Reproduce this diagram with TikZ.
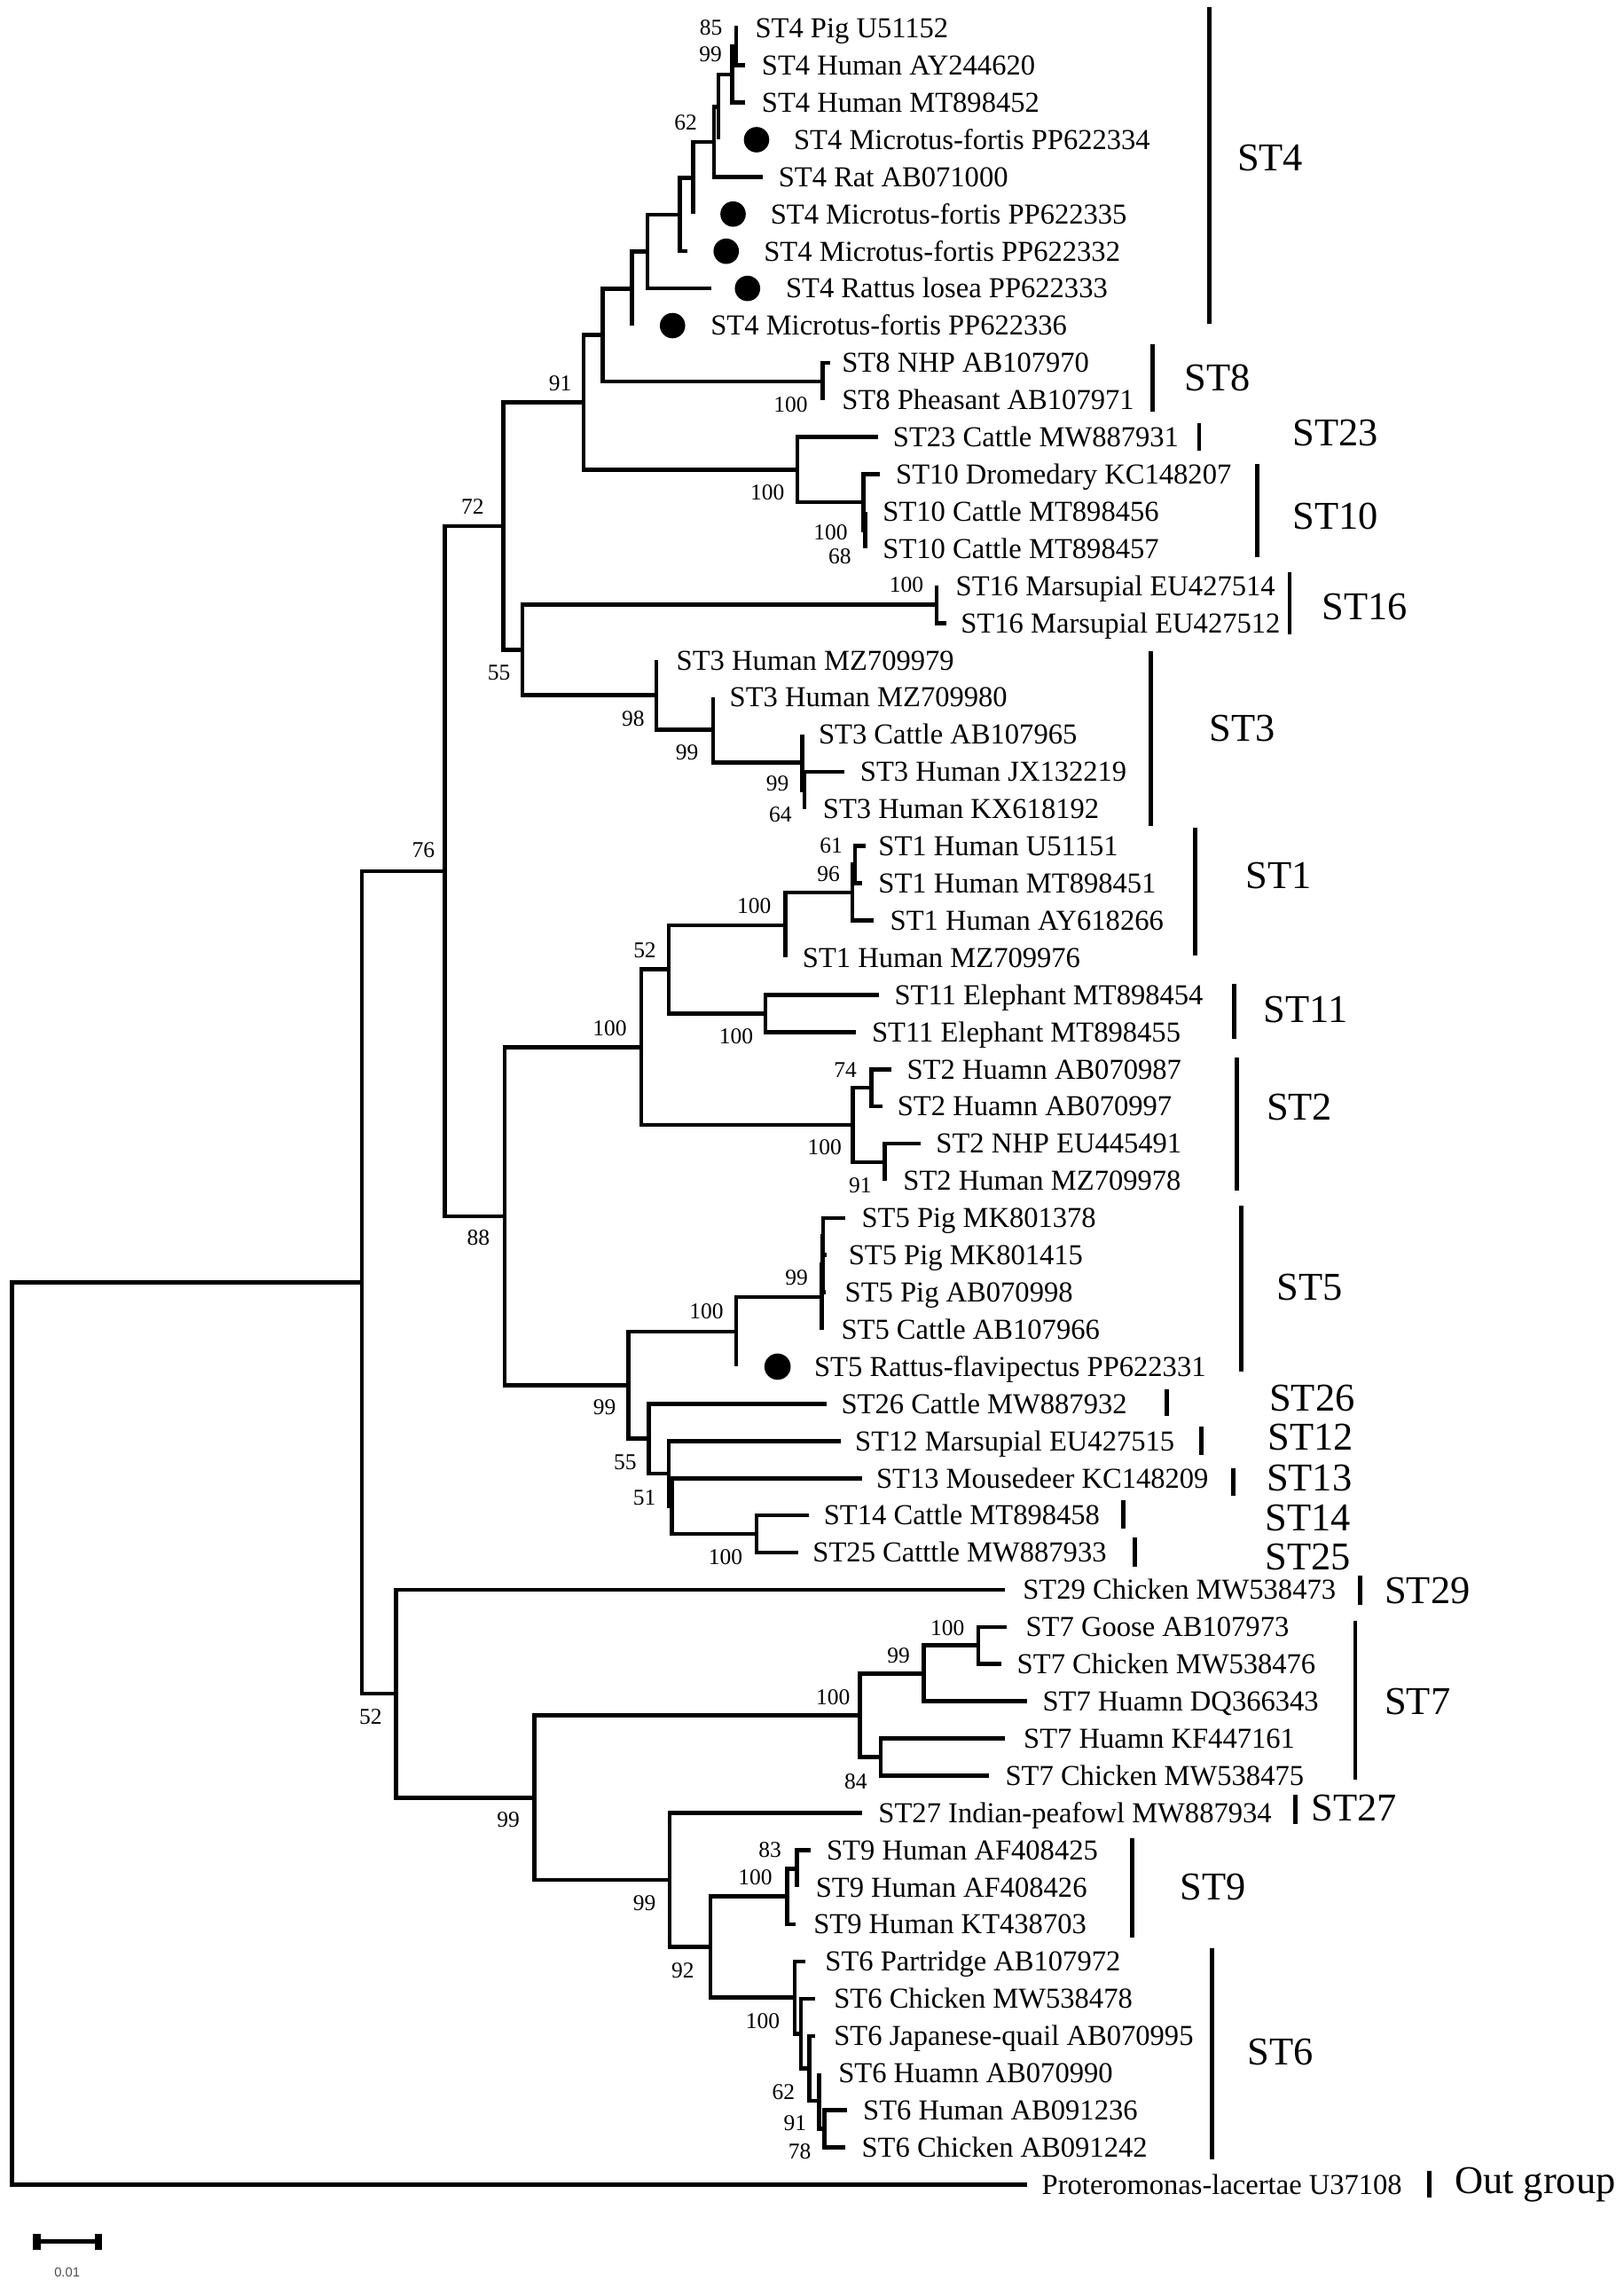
\documentclass[tikz,border=0pt]{standalone}
\usepackage{fontspec}
\setmainfont{Liberation Serif}
\newfontfamily\barfont{Liberation Sans}
\begin{document}
\begin{tikzpicture}[x=1pt,y=-1pt,
  declare function={Ly(\n)=25.48*\n-6.18;},
  br/.style={line width=2.8pt, line join=miter},
  leaf/.style={anchor=base west, inner sep=0pt, font=\fontsize{19.8}{22}\selectfont, yshift=-6.6pt},
  bs/.style={anchor=center, inner sep=0pt, font=\fontsize{15.5}{17}\selectfont},
  clade/.style={anchor=west, inner sep=0pt, font=\fontsize{27}{29}\selectfont},
  cbar/.style={line width=3pt},
  dot/.style={circle, fill=black, inner sep=0pt, minimum size=17.4pt}]
\useasboundingbox (0,0) rectangle (1113,1568);

% leaves: index / tip x / label x / text
\foreach \i/\x/\lx/\t in {
 1/506/517.5/ST4 Pig U51152,
 2/510.6/522/ST4 Human AY244620,
 3/510.6/522/ST4 Human MT898452,
 4/492.5/544/ST4 Microtus-fortis PP622334,
 5/522.8/533.5/ST4 Rat AB071000,
 6/475.2/528/ST4 Microtus-fortis PP622335,
 7/471/523.5/ST4 Microtus-fortis PP622332,
 8/487.3/538.5/ST4 Rattus losea PP622333,
 9/433.2/487/ST4 Microtus-fortis PP622336,
 10/569/577/ST8 NHP AB107970,
 11/564/577/ST8 Pheasant AB107971,
 12/601.8/612/ST23 Cattle MW887931,
 13/603/614/ST10 Dromedary KC148207,
 14/593.1/605/ST10 Cattle MT898456,
 15/593.1/605/ST10 Cattle MT898457,
 16/642/655/ST16 Marsupial EU427514,
 17/648.5/658.5/ST16 Marsupial EU427512,
 18/450/463.5/ST3 Human MZ709979,
 19/488.8/500/ST3 Human MZ709980,
 20/550/561/ST3 Cattle AB107965,
 21/579/589.5/ST3 Human JX132219,
 22/551.4/564/ST3 Human KX618192,
 23/593.5/602/ST1 Human U51151,
 24/591/602/ST1 Human MT898451,
 25/598.8/610/ST1 Human AY618266,
 26/538.2/550/ST1 Human MZ709976,
 27/602.8/613/ST11 Elephant MT898454,
 28/586.6/597.5/ST11 Elephant MT898455,
 29/611/621.5/ST2 Huamn AB070987,
 30/604.9/615/ST2 Huamn AB070997,
 31/631.2/641.5/ST2 NHP EU445491,
 32/606.5/619/ST2 Human MZ709978,
 33/579.5/590.5/ST5 Pig MK801378,
 34/566.8/581.5/ST5 Pig MK801415,
 35/566/579/ST5 Pig AB070998,
 36/563.3/576.5/ST5 Cattle AB107966,
 37/504.6/558/ST5 Rattus-flavipectus PP622331,
 38/566.4/576.5/ST26 Cattle MW887932,
 39/576.5/586/ST12 Marsupial EU427515,
 40/590.7/600.5/ST13 Mousedeer KC148209,
 41/554.2/564.5/ST14 Cattle MT898458,
 42/547/557/ST25 Catttle MW887933,
 43/689/701/ST29 Chicken MW538473,
 44/690/703/ST7 Goose AB107973,
 45/686.5/697/ST7 Chicken MW538476,
 46/704.1/714.5/ST7 Huamn DQ366343,
 47/689/701.5/ST7 Huamn KF447161,
 48/677.8/689/ST7 Chicken MW538475,
 49/590.7/602/ST27 Indian-peafowl MW887934,
 50/555.7/566.5/ST9 Human AF408425,
 51/546.1/559/ST9 Human AF408426,
 52/545.4/557.5/ST9 Human KT438703,
 53/552.2/565.5/ST6 Partridge AB107972,
 54/558.9/571.5/ST6 Chicken MW538478,
 55/558.9/571.5/ST6 Japanese-quail AB070995,
 56/561.3/574.5/ST6 Huamn AB070990,
 57/580.5/591.5/ST6 Human AB091236,
 58/579.1/590.5/ST6 Chicken AB091242,
 59/704/714/Proteromonas-lacertae U37108}
{
  \coordinate (t\i) at (\x,{Ly(\i)});
  \node[leaf] (lab\i) at (\lx,{Ly(\i)}) {\t};
}

% internal nodes: name / x / leaf-row position
\foreach \n/\x/\l in {
 n85/504.6/1.5, n99t/502/2.25, nB/492.5/3.125, nA/489.5/4.0625,
 nC/475.2/5.031, nD/466/6.016, nE/443.8/7.008, nF/433.2/8.004,
 n8/564/10.5, nG/413/9.252, nXten/593.1/14.5, nten/592/13.75,
 ntwentythree/546.5/12.875, nH/400/11.064, nsixteen/642/16.5,
 nYthree/551.4/21.5, nthreeb/550/20.75, nthreea/488.8/19.875,
 nninetyeight/450/18.94, nfiftyfive/358/17.72, nseventytwo/345/14.39,
 nZone/586/23.5, nninetysix/584.2/24.25, none/538.2/25.125,
 neleven/524.8/27.5, nfiftytwo/458.5/26.31, nseventyfour/597.4/29.5,
 nninetyone/606.5/31.5, ntwo/584.6/30.5, nbig/439.5/28.41,
 sone/564.3/33.5, stwo/563.8/34.25, sthree/563.3/35.125, nfive/504.6/36.06,
 nfourteen/518.7/41.5, nV/460.5/40.75, nfiftyone/458.5/39.875,
 nfiftyfiveb/444.8/38.94, nninetyninec/430.6/37.5, neightyeight/346/32.955,
 nseventysix/305/23.67,
 ngoose/670.7/44.5, nninetynined/633.2/45.25, neightyfour/603.8/47.5,
 nseven/589.3/46.375, neightythree/546.1/50.5, nnine/539.6/51.25,
 nseventyeight/565.3/57.5, nninetyoneb/561.3/56.75, nsixtytwob/554.8/55.875,
 nXsix/549.1/54.94, nsix/544.7/53.97, nninetytwo/487/52.61,
 nninetyninee/459/50.8, nninetyninef/366.4/48.59, nfiftytwob/271.5/45.795,
 ntop/248/34.73, root/8.1/46.865}
{
  \coordinate (\n) at (\x,{Ly(\l)});
}

% branches: parent / child
\foreach \p/\c in {
 n85/t1, n85/t2, n99t/n85, n99t/t3, nB/n99t, nB/t4, nA/nB, nA/t5,
 nC/nA, nC/t6, nD/nC, nD/t7, nE/nD, nE/t8, nF/nE, nF/t9,
 n8/t10, n8/t11, nG/nF, nG/n8,
 nXten/t14, nXten/t15, nten/t13, nten/nXten, ntwentythree/t12, ntwentythree/nten,
 nH/nG, nH/ntwentythree,
 nsixteen/t16, nsixteen/t17,
 nYthree/t21, nYthree/t22, nthreeb/t20, nthreeb/nYthree, nthreea/t19, nthreea/nthreeb,
 nninetyeight/t18, nninetyeight/nthreea,
 nfiftyfive/nsixteen, nfiftyfive/nninetyeight,
 nseventytwo/nH, nseventytwo/nfiftyfive,
 nZone/t23, nZone/t24, nninetysix/nZone, nninetysix/t25, none/nninetysix, none/t26,
 neleven/t27, neleven/t28, nfiftytwo/none, nfiftytwo/neleven,
 nseventyfour/t29, nseventyfour/t30, nninetyone/t31, nninetyone/t32,
 ntwo/nseventyfour, ntwo/nninetyone, nbig/nfiftytwo, nbig/ntwo,
 sone/t33, sone/t34, stwo/sone, stwo/t35, sthree/stwo, sthree/t36,
 nfive/sthree, nfive/t37,
 nfourteen/t41, nfourteen/t42, nV/t40, nV/nfourteen, nfiftyone/t39, nfiftyone/nV,
 nfiftyfiveb/t38, nfiftyfiveb/nfiftyone,
 nninetyninec/nfive, nninetyninec/nfiftyfiveb,
 neightyeight/nbig, neightyeight/nninetyninec,
 nseventysix/nseventytwo, nseventysix/neightyeight,
 ngoose/t44, ngoose/t45, nninetynined/ngoose, nninetynined/t46,
 neightyfour/t47, neightyfour/t48, nseven/nninetynined, nseven/neightyfour,
 neightythree/t50, neightythree/t51, nnine/neightythree, nnine/t52,
 nseventyeight/t57, nseventyeight/t58, nninetyoneb/t56, nninetyoneb/nseventyeight,
 nsixtytwob/t55, nsixtytwob/nninetyoneb, nXsix/t54, nXsix/nsixtytwob,
 nsix/t53, nsix/nXsix, nninetytwo/nnine, nninetytwo/nsix,
 nninetyninee/t49, nninetyninee/nninetytwo,
 nninetyninef/nseven, nninetyninef/nninetyninee,
 nfiftytwob/t43, nfiftytwob/nninetyninef,
 ntop/nseventysix, ntop/nfiftytwob,
 root/ntop, root/t59}
{
  \draw[br] (\p) |- (\c);
}

% markers for the new sequences
\node[dot] (d4) at (518.6,{Ly(4)}) {};
\node[dot] (d6) at (502.5,{Ly(6)}) {};
\node[dot] (d7) at (497.8,{Ly(7)}) {};
\node[dot] (d8) at (512.4,{Ly(8)}) {};
\node[dot] (d9) at (461,{Ly(9)}) {};
\node[dot, minimum size=18pt] (d37) at (533,{Ly(37)}) {};

% bootstrap values
\foreach \x/\y/\v [count=\k] in {
 487.3/19.2/85, 487/37.5/99, 470/84/62, 384/263/91, 542/277.6/100,
 526/337.4/100, 569.3/364.7/100, 575.7/381/68, 324/347/72, 621.3/400.5/100,
 342/461/55, 434/492.4/98, 471/515.7/99, 533/537/99, 535/558.2/64,
 290.3/582.6/76, 569.7/579.4/61, 568/598.8/96, 517/621/100, 442/651.5/52,
 418/705/100, 504.6/710.2/100, 579.5/733.3/74, 565.3/786.2/100, 589.7/812.6/91,
 328/848/88, 546/875.4/99, 484.3/898.7/100, 414.4/964.6/99, 428.6/1002/55,
 441.8/1026.3/51, 497.4/1067/100, 254/1176.3/52, 571/1163/100, 616/1134.7/99,
 649.4/1115.5/100, 586.6/1220.9/84, 348.5/1247.2/99, 441.8/1304/99,
 527.8/1267.5/83, 517.7/1286.7/100, 468/1350.6/92, 522.8/1385/100,
 537/1433.6/62, 545/1455/91, 548.1/1474.2/78}
{
  \node[bs] (bs\k) at (\x,\y) {\v};
}

% clade bars and names
\foreach \x/\a/\b/\lx/\ly/\t [count=\k] in {
 829/5/222/848/108/ST4,
 790/236/282/812/259/ST8,
 822/290/309/886/297/ST23,
 862/318/382/886/354/ST10,
 884/392/435/906/416/ST16,
 789/446/566/829/499/ST3,
 819/567/655/854/600/ST1,
 846/674/712/866/692/ST11,
 848/725/816/868/759/ST2,
 851/826/940/875/882/ST5,
 800/952.4/970.6/870/958.4/ST26,
 823.6/977.6/996.9/869/984.8/ST12,
 845.3/1006/1025/868/1013.2/ST13,
 770/1028/1047.6/867/1040.5/ST14,
 778/1053.5/1073.7/867/1066.8/ST25,
 932.5/1080/1100/949/1090.2/ST29,
 929/1110.5/1219.8/949/1166/ST7,
 888/1229.8/1250/898.7/1239/ST27,
 776/1260/1328/809/1293/ST9,
 831/1335/1480/855/1406/ST6,
 980/1488/1506/997/1497/Out group}
{
  \coordinate (ca\k) at (\x,\a);
  \coordinate (cb\k) at (\x,\b);
  \draw[cbar] (ca\k) -- (cb\k);
  \node[clade] (cl\k) at (\lx,\ly) {\t};
}

% scale bar
\coordinate (sbl) at (22.3,1536);
\coordinate (sbr) at (69.9,1536);
\draw[line width=2.8pt] (sbl) -- (sbr);
\fill (22.3,1530.9) rectangle (28,1541.6);
\fill (65,1530.9) rectangle (69.9,1541.6);
\node[font=\barfont\fontsize{9}{10}\selectfont, text=black!70, inner sep=0pt] (sbt) at (46,1557) {0.01};
\end{tikzpicture}
\end{document}
